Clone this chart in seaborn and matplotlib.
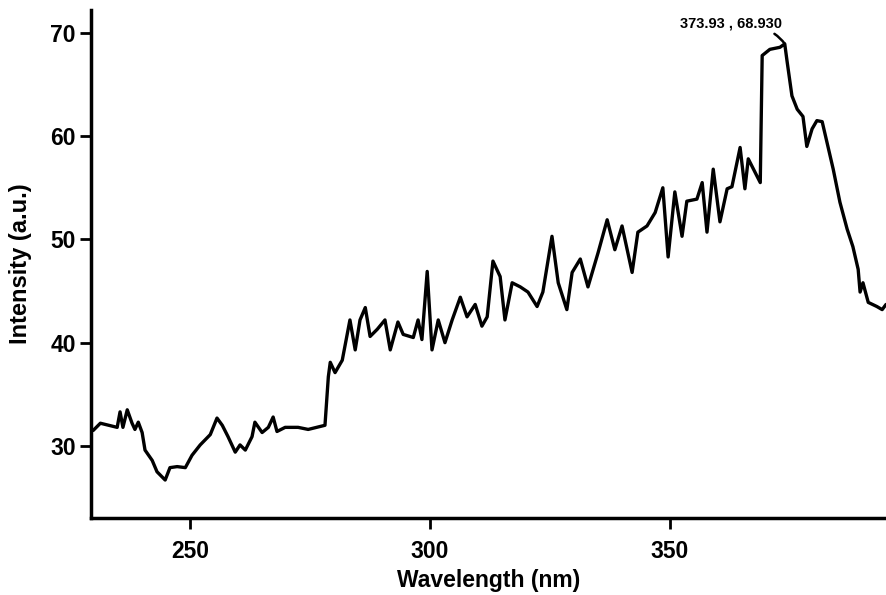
import numpy as np
import pandas as pd
import matplotlib
matplotlib.use("Agg")
import matplotlib.pyplot as plt
import seaborn as sns

wavelength = [229.8, 231.3, 234.8, 235.4, 236.0, 236.9, 237.9, 238.5, 239.2, 240.0,
              240.6, 242.1, 243.1, 244.8, 245.8, 247.3, 249.0, 250.4, 252.1, 254.2,
              255.6, 256.7, 257.9, 259.4, 260.4, 261.5, 262.9, 263.5, 265.0, 266.3,
              267.3, 268.1, 269.8, 272.5, 274.6, 278.1, 278.8, 279.2, 280.2, 281.7,
              283.3, 284.4, 285.4, 286.5, 287.5, 289.0, 290.6, 291.7, 293.3, 294.4,
              296.5, 297.5, 298.3, 299.4, 300.4, 301.7, 303.1, 304.6, 306.3, 307.7,
              309.4, 310.8, 311.9, 313.1, 314.6, 315.6, 317.1, 318.8, 320.4, 322.3,
              323.5, 325.4, 326.7, 328.5, 329.6, 331.3, 332.9, 335.0, 336.9, 338.5,
              340.0, 342.1, 343.3, 345.2, 346.9, 348.5, 349.6, 351.0, 352.5, 353.5,
              355.6, 356.7, 357.7, 359.0, 360.4, 361.9, 362.9, 364.6, 365.6, 366.3,
              368.8, 369.2, 370.8, 372.9, 373.9, 374.4, 375.4, 376.5, 377.7, 378.5,
              379.6, 380.6, 381.7, 382.7, 384.0, 385.4, 386.9, 388.1, 389.2, 389.6,
              390.2, 391.3, 393.1, 394.2, 395.0]
intensity = [31.5, 32.2, 31.8, 33.3, 31.8, 33.5, 32.2, 31.6, 32.3, 31.3,
             29.6, 28.6, 27.5, 26.7, 27.9, 28.0, 27.9, 29.1, 30.1, 31.1,
             32.7, 32.0, 30.9, 29.4, 30.1, 29.6, 30.9, 32.3, 31.3, 31.8,
             32.8, 31.4, 31.8, 31.8, 31.6, 32.0, 36.7, 38.1, 37.1, 38.3,
             42.2, 39.3, 42.2, 43.4, 40.6, 41.3, 42.2, 39.3, 42.0, 40.8,
             40.5, 42.2, 40.3, 46.9, 39.3, 42.2, 40.0, 42.2, 44.4, 42.5,
             43.7, 41.6, 42.5, 47.9, 46.4, 42.2, 45.8, 45.4, 44.9, 43.5,
             44.9, 50.3, 45.8, 43.2, 46.8, 48.1, 45.4, 48.7, 51.9, 49.0,
             51.3, 46.8, 50.7, 51.3, 52.6, 55.0, 48.3, 54.6, 50.3, 53.7,
             53.9, 55.5, 50.7, 56.8, 51.7, 54.9, 55.1, 58.9, 54.9, 57.8,
             55.5, 67.8, 68.4, 68.6, 68.93, 67.2, 63.9, 62.6, 61.9, 59.0,
             60.7, 61.5, 61.4, 59.4, 56.8, 53.6, 51.0, 49.3, 47.1, 44.9,
             45.8, 43.9, 43.5, 43.2, 43.7]

x_ticks = [250, 300, 350]
y_ticks = [30, 40, 50, 60, 70]
peak_label = "373.93 , 68.930"
peak_x, peak_y = 373.93, 68.93

sns.set_style("ticks")
plt.rcParams['font.family'] = ['Liberation Sans', 'DejaVu Sans']
plt.rcParams['text.color'] = 'black'
plt.rcParams['axes.labelcolor'] = 'black'
plt.rcParams['xtick.color'] = 'black'
plt.rcParams['ytick.color'] = 'black'
plt.rcParams['axes.edgecolor'] = 'black'

df = pd.DataFrame({"Wavelength (nm)": wavelength, "Intensity (a.u.)": intensity})

fig = plt.figure(figsize=(8.86, 5.95), dpi=100)
ax = fig.add_axes([0.103, 0.129, 0.897, 0.854])
sns.lineplot(data=df, x="Wavelength (nm)", y="Intensity (a.u.)", ax=ax,
             color="black", linewidth=2.4, sort=False)

ax.set_xlim(229.4, 395.0)
ax.set_ylim(23.0, 72.2)
ax.set_xticks(x_ticks)
ax.set_yticks(y_ticks)
ax.tick_params(axis="both", direction="out", length=8, width=2, labelsize=16.5)
ax.tick_params(axis="x", pad=8)
ax.tick_params(axis="y", pad=3)
for lab in ax.get_xticklabels() + ax.get_yticklabels():
    lab.set_fontweight("bold")
for side in ["top", "right"]:
    ax.spines[side].set_visible(False)
for side in ["left", "bottom"]:
    ax.spines[side].set_linewidth(2.5)

ax.set_xlabel("Wavelength (nm)", fontsize=16.5, fontweight="bold", labelpad=4)
ax.set_ylabel("Intensity (a.u.)", fontsize=17, fontweight="bold", labelpad=6)
ax.yaxis.set_label_coords(-0.074, 0.50)

ax.annotate(peak_label, xy=(peak_x, peak_y), xytext=(362.7, 70.9),
            ha="center", va="center", fontsize=10.5, fontweight="bold",
            arrowprops=dict(arrowstyle="-", color="black", lw=1.8,
                            connectionstyle="arc3,rad=-0.35",
                            relpos=(0.62, 0.0), shrinkA=0, shrinkB=0))

fig.savefig("out.png", dpi=100)
